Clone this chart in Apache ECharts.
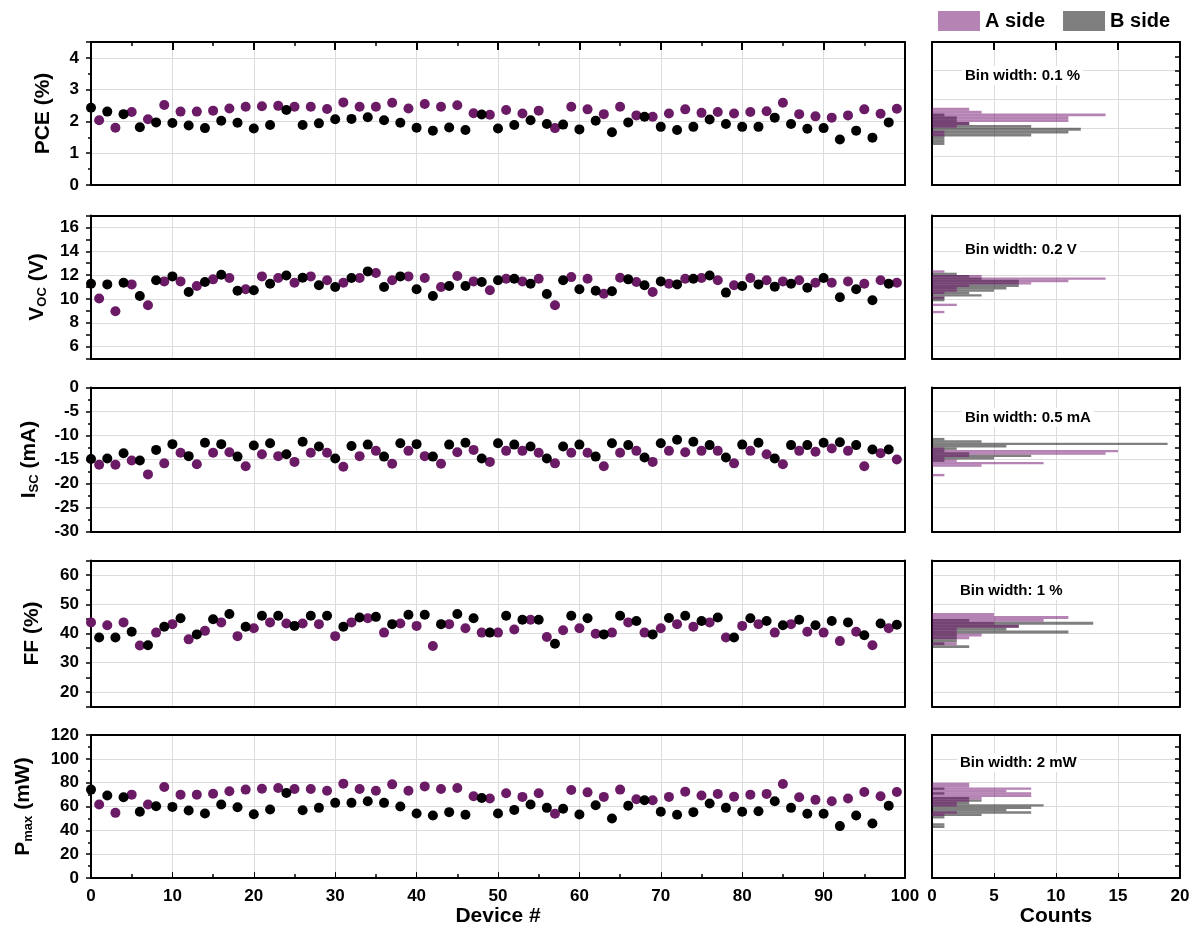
<!DOCTYPE html>
<html>
<head>
<meta charset="utf-8">
<script src="https://cdn.jsdelivr.net/npm/echarts@6/dist/echarts.min.js"></script>
<style>
  html, body { margin: 0; padding: 0; background: #fff; }
  #chart { width: 1196px; height: 928px; }
</style>
</head>
<body>
<div id="chart"></div>
<script>
// device numbers
var devEven = [0,2,4,6,8,10,12,14,16,18,20,22,24,26,28,30,32,34,36,38,40,42,44,46,48,50,52,54,56,58,60,62,64,66,68,70,72,74,76,78,80,82,84,86,88,90,92,94,96,98];
var devOdd = [1,3,5,7,9,11,13,15,17,19,21,23,25,27,29,31,33,35,37,39,41,43,45,47,49,51,53,55,57,59,61,63,65,67,69,71,73,75,77,79,81,83,85,87,89,91,93,95,97,99];

// PCE (%)
var pceA = [2.04,1.80,2.30,2.07,2.52,2.31,2.31,2.34,2.41,2.46,2.48,2.49,2.46,2.46,2.39,2.60,2.46,2.46,2.59,2.41,2.55,2.46,2.51,2.26,2.21,2.36,2.25,2.34,1.79,2.46,2.38,2.23,2.46,2.19,2.15,2.25,2.38,2.27,2.30,2.25,2.30,2.32,2.59,2.23,2.16,2.12,2.19,2.38,2.24,2.40];
var pceB = [2.43,2.31,2.23,1.82,1.97,1.95,1.87,1.79,2.02,1.96,1.78,1.89,2.36,1.89,1.94,2.07,2.08,2.13,2.04,1.96,1.80,1.71,1.81,1.73,2.22,1.78,1.89,2.04,1.92,1.90,1.75,2.02,1.66,1.97,2.15,1.83,1.73,1.83,2.06,1.92,1.83,1.83,2.12,1.92,1.77,1.79,1.43,1.71,1.49,1.97];
// VOC (V)
var vocA = [10.03,8.97,11.22,9.47,11.47,11.47,11.08,11.64,11.75,10.81,11.89,11.75,11.36,11.89,11.56,11.36,11.75,12.17,11.56,11.89,11.75,11.0,11.92,11.47,10.72,11.69,11.47,11.69,9.47,11.83,11.69,10.44,11.78,11.42,10.58,11.28,11.69,11.75,11.56,11.14,11.75,11.56,11.47,11.56,11.36,11.36,11.47,11.28,11.56,11.36];
var vocB = [11.28,11.22,11.36,10.25,11.56,11.89,10.58,11.42,12.03,10.69,10.72,11.28,11.97,11.78,11.14,11.0,11.75,12.31,11.0,11.89,10.81,10.25,11.08,11.08,11.42,11.56,11.69,11.28,10.42,11.56,10.81,10.69,10.64,11.64,11.14,11.47,11.22,11.69,11.97,10.53,11.08,11.22,11.03,11.28,10.94,11.75,10.14,10.81,9.89,11.28];
// ISC (mA)
var iscA = [-16.1,-16.1,-15.2,-18.1,-15.8,-13.6,-16.0,-13.6,-13.5,-16.4,-13.9,-14.3,-15.5,-13.6,-13.6,-16.5,-14.3,-13.2,-15.9,-13.2,-14.3,-15.9,-13.5,-13.0,-15.5,-13.2,-13.2,-13.6,-15.8,-13.6,-13.6,-16.4,-13.6,-13.2,-15.5,-13.2,-13.5,-13.2,-13.2,-15.8,-13.2,-13.9,-16.0,-13.2,-13.4,-12.7,-13.2,-16.4,-13.7,-15.0];
var iscB = [-14.9,-14.8,-13.7,-15.2,-13.0,-11.8,-14.3,-11.5,-11.8,-14.4,-12.1,-11.6,-13.9,-11.3,-12.3,-14.8,-12.2,-11.9,-14.4,-11.6,-11.8,-14.4,-11.9,-11.5,-14.8,-11.6,-11.9,-12.3,-14.8,-12.3,-11.9,-14.4,-11.6,-12.0,-14.6,-11.6,-10.9,-11.3,-12.0,-14.6,-11.9,-11.5,-14.8,-12.0,-12.0,-11.5,-11.4,-12.0,-12.9,-12.9];
// FF (%) -- in this panel A side sits on the even device numbers
var ffA = [43.8,42.8,43.8,35.9,40.3,43.2,38.0,40.9,43.8,39.1,41.8,43.8,43.4,43.4,43.2,39.1,43.8,45.2,40.3,43.4,42.6,35.7,43.2,41.8,40.3,40.3,41.4,44.7,38.8,41.1,41.8,39.9,40.3,43.8,40.3,41.8,43.2,42.3,43.8,38.6,42.6,43.2,40.3,43.2,40.6,40.3,37.4,40.6,36.0,41.8];
var ffB = [38.6,38.6,40.6,36.0,42.3,45.2,39.7,44.9,46.7,42.3,46.1,46.1,42.6,46.1,46.1,42.3,45.5,45.7,43.2,46.4,46.4,43.2,46.7,45.2,40.3,46.1,44.7,44.7,36.5,46.1,45.2,39.7,46.1,44.3,39.7,45.3,46.1,44.3,45.5,38.6,45.2,44.3,42.8,44.7,42.8,44.3,43.8,39.4,43.4,43.0];
// Pmax (mW)
var pmaxA = [61.7,54.7,70.0,61.7,76.4,70.0,70.0,70.8,72.8,74.2,75.0,75.6,74.7,74.7,73.3,79.2,74.7,73.3,78.6,73.3,76.9,74.7,75.6,68.6,66.7,71.1,68.1,71.1,53.9,73.9,71.9,68.1,74.2,66.1,65.3,68.1,72.5,69.2,70.6,68.3,70.0,70.6,78.9,67.8,65.6,64.4,66.7,72.2,68.6,72.2];
var pmaxB = [74.2,69.2,67.8,55.6,60.3,59.7,56.7,54.2,61.7,59.4,53.6,57.5,71.4,56.9,58.9,63.1,63.1,64.4,63.1,60.0,54.2,52.5,55.3,53.1,67.2,54.2,57.2,61.7,58.9,58.1,53.3,61.1,50.0,60.6,65.3,55.6,53.1,55.3,62.5,58.9,55.6,56.1,64.4,58.9,53.9,53.9,43.6,52.5,45.8,60.6];

// histograms: lower bin edge and counts
var pceHistLo = [1.4,1.5,1.6,1.7,1.8,1.9,2.0,2.1,2.2,2.3,2.4,2.5,2.6];
var pceHistA = [0,0,0,1,1,0,2,3,11,11,14,4,3];
var pceHistB = [1,1,1,8,11,12,8,3,2,2,1,0,0];
var vocHistLo = [8.8,9.0,9.2,9.4,9.6,9.8,10.0,10.2,10.4,10.6,10.8,11.0,11.2,11.4,11.6,11.8,12.0,12.2];
var vocHistA = [1,0,0,2,0,0,1,0,1,2,2,3,8,11,14,4,0,1];
var vocHistB = [0,0,0,0,0,1,1,4,3,5,6,7,7,7,4,3,2,0];
var iscHistLo = [-18.5,-18.0,-17.5,-17.0,-16.5,-16.0,-15.5,-15.0,-14.5,-14.0,-13.5,-13.0,-12.5,-12.0,-11.5,-11.0];
var iscHistA = [1,0,0,0,4,9,2,1,3,14,15,1,0,0,0,0];
var iscHistB = [0,0,0,0,0,0,1,5,8,3,1,2,6,19,4,1];
var ffHistLo = [35,36,37,38,39,40,41,42,43,44,45,46];
var ffHistA = [0,2,0,3,4,2,2,7,5,9,11,5];
var ffHistB = [3,1,2,2,2,11,6,7,13,3,0,0];
var pmaxHistLo = [42,44,46,48,50,52,54,56,58,60,62,64,66,68,70,72,74,76,78];
var pmaxHistA = [0,0,0,0,0,1,2,0,0,2,2,3,4,8,8,6,8,3,3];
var pmaxHistB = [1,1,0,0,1,4,8,6,8,9,3,4,3,0,1,0,1,0,0];

var FONT = '"Liberation Sans", Arial, Helvetica, sans-serif';
var PURPLE = '#6b1a66';
var HIST_A = 'rgba(110,10,105,0.5)';
var HIST_B = 'rgba(0,0,0,0.5)';
var GRID_LINE = '#dcdcdc';

var rows = [
  { name: 'PCE (%)', nameGap: 37, min: 0, max: 4.5, interval: 1, step: 1, minor: 2, alt: false,
    hMin: 0, hMax: 5, hInterval: 1, hMinor: 2,
    a: pceA, b: pceB, ax: devOdd, bx: devEven, lo: pceHistLo, ha: pceHistA, hb: pceHistB, bw: 0.1,
    bin: 'Bin width: 0.1 %', binX: 962, binY: 66 },
  { name: '{m|V}{s|OC}{m| (V)}', nameGap: 35, min: 5, max: 17, interval: 1, step: 2, minor: 0, alt: true,
    hMin: 5, hMax: 17, hInterval: 1, hMinor: 0,
    a: vocA, b: vocB, ax: devOdd, bx: devEven, lo: vocHistLo, ha: vocHistA, hb: vocHistB, bw: 0.2,
    bin: 'Bin width: 0.2 V', binX: 962, binY: 240 },
  { name: '{m|I}{s|SC}{m| (mA)}', nameGap: 50, min: -30, max: 0, interval: 5, step: 5, minor: 2, alt: false,
    hMin: -30, hMax: 0, hInterval: 5, hMinor: 2,
    a: iscA, b: iscB, ax: devOdd, bx: devEven, lo: iscHistLo, ha: iscHistA, hb: iscHistB, bw: 0.5,
    bin: 'Bin width: 0.5 mA', binX: 962, binY: 408 },
  { name: 'FF (%)', nameGap: 48, min: 15, max: 65, interval: 5, step: 10, minor: 0, alt: true,
    hMin: 15, hMax: 65, hInterval: 5, hMinor: 0,
    a: ffA, b: ffB, ax: devEven, bx: devOdd, lo: ffHistLo, ha: ffHistA, hb: ffHistB, bw: 1,
    bin: 'Bin width: 1 %', binX: 957, binY: 581 },
  { name: '{m|P}{s|max}{m| (mW)}', nameGap: 56, min: 0, max: 120, interval: 20, step: 20, minor: 2, alt: false,
    hMin: 0, hMax: 120, hInterval: 20, hMinor: 2,
    a: pmaxA, b: pmaxB, ax: devOdd, bx: devEven, lo: pmaxHistLo, ha: pmaxHistA, hb: pmaxHistB, bw: 2,
    bin: 'Bin width: 2 mW', binX: 957, binY: 753 }
];

var TOPS = [42, 215.5, 387.5, 560.5, 735];
var HEIGHTS = [143, 143, 144, 146, 144];

function txt(size) {
  return { fontSize: size, fontWeight: 'bold', color: '#000', fontFamily: FONT };
}

function baseAxis(gridIndex, extra) {
  var ax = {
    type: 'value', gridIndex: gridIndex,
    axisLine: { show: true, onZero: false, lineStyle: { color: '#000', width: 2 } },
    axisTick: { show: false },
    axisLabel: { show: false },
    splitLine: { show: false }
  };
  for (var k in extra) ax[k] = extra[k];
  return ax;
}

function splitStyle(alt) {
  return alt
    ? { show: true, lineStyle: { color: ['rgba(0,0,0,0)', GRID_LINE], width: 1 } }
    : { show: true, showMinLine: false, showMaxLine: false, lineStyle: { color: GRID_LINE, width: 1 } };
}

function labelFormatter(step) {
  return function (v) {
    var q = v / step;
    return Math.abs(q - Math.round(q)) < 1e-6 ? String(Math.round(v * 100) / 100) : '';
  };
}

function histRenderer(bw) {
  return function (params, api) {
    var lo = api.value(0);
    var p0 = api.coord([0, lo]);
    var p1 = api.coord([api.value(1), lo + bw]);
    return {
      type: 'rect',
      shape: { x: p0[0], y: p1[1], width: p1[0] - p0[0], height: p0[1] - p1[1] },
      style: { fill: api.visual('color') }
    };
  };
}

function pairs(xs, ys) {
  return xs.map(function (x, i) { return [x, ys[i]]; });
}

function histData(lo, counts) {
  var out = [];
  lo.forEach(function (l, i) { if (counts[i] > 0) out.push([l, counts[i]]); });
  return out;
}

var grid = [], xAxis = [], yAxis = [], series = [], title = [];

rows.forEach(function (r, i) {
  var first = i === 0, last = i === rows.length - 1;
  var gs = 2 * i, gh = 2 * i + 1;
  grid.push({ left: 91, top: TOPS[i], width: 814, height: HEIGHTS[i] });
  grid.push({ left: 932, top: TOPS[i], width: 248, height: HEIGHTS[i] });

  // scatter: bottom x
  xAxis.push(baseAxis(gs, {
    position: 'bottom', min: 0, max: 100, interval: 10,
    splitLine: splitStyle(false),
    axisLabel: { show: last, margin: 10, fontSize: 17, fontWeight: 'bold', color: '#000', fontFamily: FONT },
    axisTick: { show: last, inside: true, length: 6 },
    minorTick: { show: last, splitNumber: 2, length: 4, lineStyle: { color: '#000', width: 1.5 } },
    name: last ? 'Device #' : '', nameLocation: 'middle', nameGap: 27, nameTextStyle: txt(21)
  }));
  // scatter: top x
  xAxis.push(baseAxis(gs, {
    position: 'top', min: 0, max: 100, interval: 10,
    axisTick: { show: first, inside: true, length: 8, lineStyle: { width: 2 } },
    minorTick: { show: first, splitNumber: 2, length: 4, lineStyle: { color: '#000', width: 1.5 } }
  }));
  // histogram: bottom x
  xAxis.push(baseAxis(gh, {
    position: 'bottom', min: 0, max: 20, interval: 5,
    splitLine: splitStyle(false),
    axisLabel: { show: last, margin: 10, fontSize: 17, fontWeight: 'bold', color: '#000', fontFamily: FONT },
    axisTick: { show: last, inside: true, length: 5 },
    name: last ? 'Counts' : '', nameLocation: 'middle', nameGap: 27, nameTextStyle: txt(21)
  }));
  // histogram: top x
  xAxis.push(baseAxis(gh, {
    position: 'top', min: 0, max: 20, interval: 5,
    axisTick: { show: first, inside: true, length: 8, lineStyle: { width: 2 } }
  }));

  // scatter: left y
  yAxis.push(baseAxis(gs, {
    position: 'left', min: r.min, max: r.max, interval: r.interval,
    splitLine: splitStyle(r.alt),
    axisLabel: { show: true, margin: 12, fontSize: 17, fontWeight: 'bold', color: '#000', fontFamily: FONT,
                 formatter: labelFormatter(r.step) },
    axisTick: { show: true, inside: false, length: 5, lineStyle: { width: 1.5 } },
    minorTick: { show: r.minor > 0, splitNumber: r.minor || 2, length: 3, lineStyle: { color: '#000', width: 1.5 } },
    name: r.name, nameLocation: 'middle', nameGap: r.nameGap,
    nameTextStyle: {
      fontSize: 21, fontWeight: 'bold', color: '#000', fontFamily: FONT,
      rich: {
        m: txt(21),
        s: { fontSize: 13, fontWeight: 'bold', color: '#000', fontFamily: FONT, padding: [10, 0, 0, 0] }
      }
    }
  }));
  // scatter: right y
  yAxis.push(baseAxis(gs, { position: 'right', min: r.min, max: r.max, interval: r.interval }));
  // histogram: left y
  yAxis.push(baseAxis(gh, { position: 'left', min: r.hMin, max: r.hMax, interval: r.hInterval }));
  // histogram: right y
  yAxis.push(baseAxis(gh, {
    position: 'right', min: r.hMin, max: r.hMax, interval: r.hInterval,
    splitLine: splitStyle(r.alt),
    axisTick: { show: true, inside: true, length: 5, lineStyle: { width: 1.5 } },
    minorTick: { show: r.hMinor > 0, splitNumber: r.hMinor || 2, length: 5, lineStyle: { color: '#000', width: 1.5 } }
  }));

  var xs = 4 * i, xh = 4 * i + 2;
  series.push({
    name: 'A side', type: 'scatter', xAxisIndex: xs, yAxisIndex: xs,
    data: pairs(r.ax, r.a), symbolSize: 10, itemStyle: { color: PURPLE, opacity: 1 }, silent: true
  });
  series.push({
    name: 'B side', type: 'scatter', xAxisIndex: xs, yAxisIndex: xs,
    data: pairs(r.bx, r.b), symbolSize: 10, itemStyle: { color: '#000', opacity: 1 }, silent: true
  });
  series.push({
    name: 'B side', type: 'custom', xAxisIndex: xh, yAxisIndex: xh,
    renderItem: histRenderer(r.bw), encode: { x: 1, y: 0 },
    data: histData(r.lo, r.hb), itemStyle: { color: HIST_B }, silent: true
  });
  series.push({
    name: 'A side', type: 'custom', xAxisIndex: xh, yAxisIndex: xh,
    renderItem: histRenderer(r.bw), encode: { x: 1, y: 0 },
    data: histData(r.lo, r.ha), itemStyle: { color: HIST_A }, silent: true
  });

  title.push({
    text: r.bin, left: r.binX, top: r.binY, padding: [2, 3],
    backgroundColor: '#fff',
    textStyle: txt(15)
  });
});

var chart = echarts.init(document.getElementById('chart'));
chart.setOption({
  backgroundColor: '#fff',
  animation: false,
  title: title,
  legend: {
    left: 938, top: 11, padding: 0, itemWidth: 42, itemHeight: 20, itemGap: 18, icon: 'rect',
    selectedMode: false,
    textStyle: txt(20),
    data: [
      { name: 'A side', itemStyle: { color: HIST_A } },
      { name: 'B side', itemStyle: { color: HIST_B } }
    ]
  },
  grid: grid,
  xAxis: xAxis,
  yAxis: yAxis,
  series: series
});
</script>
</body>
</html>
